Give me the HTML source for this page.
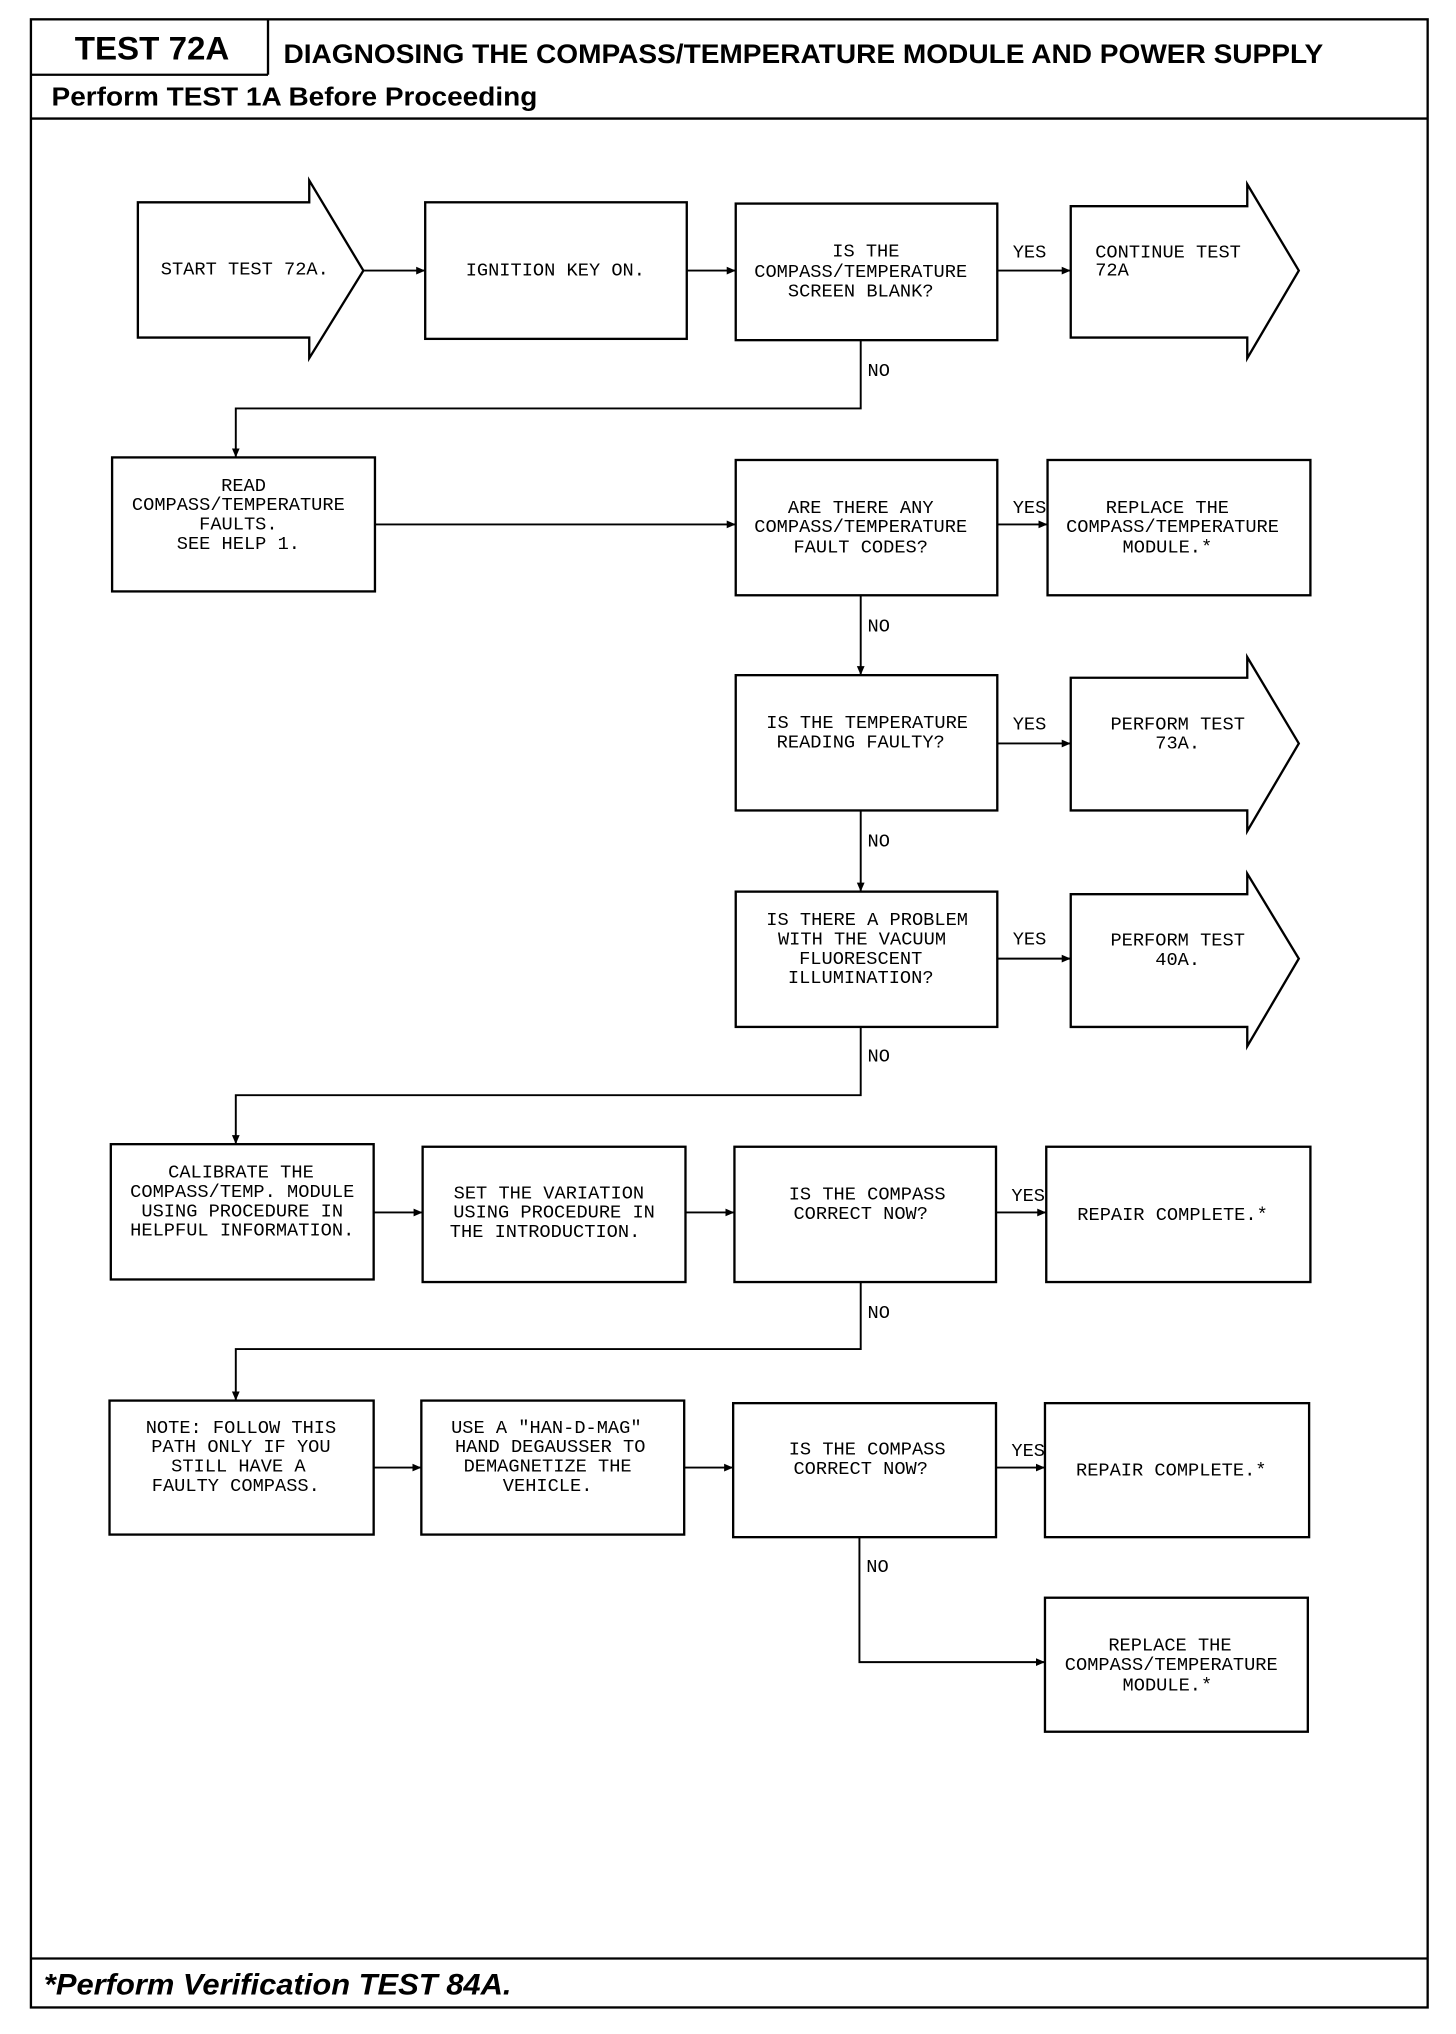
<!DOCTYPE html>
<html><head><style>html,body{margin:0;padding:0;background:#fff}svg{display:block}</style></head>
<body>
<svg width="1456" height="2034" viewBox="0 0 1130 1578.6" preserveAspectRatio="none" xmlns="http://www.w3.org/2000/svg">
<defs><marker id="a" markerWidth="8" markerHeight="8" refX="7" refY="4" orient="auto" markerUnits="userSpaceOnUse"><path d="M0,1 L7,4 L0,7 Z" fill="#000"/></marker></defs>
<g fill="none" stroke="#000" stroke-width="1.8">
<rect x="24" y="15" width="1084" height="1543"/>
<line x1="208" y1="15" x2="208" y2="58"/>
<line x1="24" y1="58" x2="208" y2="58"/>
<line x1="24" y1="92" x2="1108" y2="92"/>
<line x1="24" y1="1520" x2="1108" y2="1520"/>
<path d="M107,157 L240,157 L240,140 L282,210 L240,278 L240,262 L107,262 Z"/>
<rect x="330" y="157" width="203" height="106"/>
<rect x="571" y="158" width="203" height="106"/>
<path d="M831,160 L968,160 L968,143 L1008,210 L968,278 L968,262 L831,262 Z"/>
<rect x="87" y="355" width="204" height="104"/>
<rect x="571" y="357" width="203" height="105"/>
<rect x="813" y="357" width="204" height="105"/>
<rect x="571" y="524" width="203" height="105"/>
<path d="M831,526 L968,526 L968,510 L1008,577 L968,645 L968,629 L831,629 Z"/>
<rect x="571" y="692" width="203" height="105"/>
<path d="M831,694 L968,694 L968,678 L1008,744 L968,812 L968,797 L831,797 Z"/>
<rect x="86" y="888" width="204" height="105"/>
<rect x="328" y="890" width="204" height="105"/>
<rect x="570" y="890" width="203" height="105"/>
<rect x="812" y="890" width="205" height="105"/>
<rect x="85" y="1087" width="205" height="104"/>
<rect x="327" y="1087" width="204" height="104"/>
<rect x="569" y="1089" width="204" height="104"/>
<rect x="811" y="1089" width="205" height="104"/>
<rect x="811" y="1240" width="204" height="104"/>
</g>
<g fill="none" stroke="#000" stroke-width="1.5" marker-end="url(#a)">
<line x1="282" y1="210" x2="330" y2="210"/>
<line x1="533" y1="210" x2="571" y2="210"/>
<line x1="774" y1="210" x2="831" y2="210"/>
<polyline points="668,264 668,317 183,317 183,355"/>
<line x1="291" y1="407" x2="571" y2="407"/>
<line x1="774" y1="407" x2="813" y2="407"/>
<line x1="668" y1="462" x2="668" y2="524"/>
<line x1="774" y1="577" x2="831" y2="577"/>
<line x1="668" y1="629" x2="668" y2="692"/>
<line x1="774" y1="744" x2="831" y2="744"/>
<polyline points="668,797 668,850 183,850 183,888"/>
<line x1="290" y1="941" x2="328" y2="941"/>
<line x1="532" y1="941" x2="570" y2="941"/>
<line x1="773" y1="941" x2="812" y2="941"/>
<polyline points="668,995 668,1047 183,1047 183,1087"/>
<line x1="290" y1="1139" x2="327" y2="1139"/>
<line x1="531" y1="1139" x2="569" y2="1139"/>
<line x1="773" y1="1139" x2="811" y2="1139"/>
<polyline points="667,1193 667,1290 811,1290"/>
</g>
<g font-family="Liberation Sans, sans-serif" font-weight="bold" fill="#000">
<text x="58" y="46" font-size="25" textLength="120" lengthAdjust="spacingAndGlyphs">TEST 72A</text>
<text x="220" y="49" font-size="21" textLength="807" lengthAdjust="spacingAndGlyphs">DIAGNOSING THE COMPASS/TEMPERATURE MODULE AND POWER SUPPLY</text>
<text x="40" y="82" font-size="20" textLength="377" lengthAdjust="spacingAndGlyphs">Perform TEST 1A Before Proceeding</text>
<text x="34" y="1548" font-size="23" font-style="italic" textLength="363" lengthAdjust="spacingAndGlyphs">*Perform Verification TEST 84A.</text>
</g>
<g font-family="Liberation Mono, monospace" font-size="14.5" fill="#000" text-anchor="middle">
<text x="190" y="213">START TEST 72A.</text>
<text x="431" y="214">IGNITION KEY ON.</text>
<text x="672" y="199">IS THE</text><text x="668" y="215">COMPASS/TEMPERATURE</text><text x="668" y="230">SCREEN BLANK?</text>
<text x="799" y="200">YES</text>
<text x="850" y="200" text-anchor="start">CONTINUE TEST</text><text x="850" y="214" text-anchor="start">72A</text>
<text x="682" y="292">NO</text>
<text x="189" y="381">READ</text><text x="185" y="396">COMPASS/TEMPERATURE</text><text x="185" y="411">FAULTS.</text><text x="185" y="426">SEE HELP 1.</text>
<text x="668" y="398">ARE THERE ANY</text><text x="668" y="413">COMPASS/TEMPERATURE</text><text x="668" y="429">FAULT CODES?</text>
<text x="799" y="398">YES</text>
<text x="906" y="398">REPLACE THE</text><text x="910" y="413">COMPASS/TEMPERATURE</text><text x="906" y="429">MODULE.*</text>
<text x="682" y="490">NO</text>
<text x="673" y="565">IS THE TEMPERATURE</text><text x="668" y="580">READING FAULTY?</text>
<text x="799" y="566">YES</text>
<text x="914" y="566">PERFORM TEST</text><text x="914" y="581">73A.</text>
<text x="682" y="657">NO</text>
<text x="673" y="718">IS THERE A PROBLEM</text><text x="669" y="733">WITH THE VACUUM</text><text x="668" y="748">FLUORESCENT</text><text x="668" y="763">ILLUMINATION?</text>
<text x="799" y="733">YES</text>
<text x="914" y="734">PERFORM TEST</text><text x="914" y="749">40A.</text>
<text x="682" y="824">NO</text>
<text x="187" y="914">CALIBRATE THE</text><text x="188" y="929">COMPASS/TEMP. MODULE</text><text x="188" y="944">USING PROCEDURE IN</text><text x="188" y="959">HELPFUL INFORMATION.</text>
<text x="426" y="930">SET THE VARIATION</text><text x="430" y="945">USING PROCEDURE IN</text><text x="423" y="960">THE INTRODUCTION.</text>
<text x="673" y="931">IS THE COMPASS</text><text x="668" y="946">CORRECT NOW?</text>
<text x="798" y="932">YES</text>
<text x="910" y="947">REPAIR COMPLETE.*</text>
<text x="682" y="1023">NO</text>
<text x="187" y="1112">NOTE:  FOLLOW THIS</text><text x="187" y="1127">PATH ONLY IF YOU</text><text x="185" y="1142">STILL HAVE A</text><text x="183" y="1157">FAULTY COMPASS.</text>
<text x="424" y="1112">USE A "HAN-D-MAG"</text><text x="427" y="1127">HAND DEGAUSSER TO</text><text x="425" y="1142">DEMAGNETIZE THE</text><text x="425" y="1157">VEHICLE.</text>
<text x="673" y="1129">IS THE COMPASS</text><text x="668" y="1144">CORRECT NOW?</text>
<text x="798" y="1130">YES</text>
<text x="909" y="1145">REPAIR COMPLETE.*</text>
<text x="681" y="1220">NO</text>
<text x="908" y="1281">REPLACE THE</text><text x="909" y="1296">COMPASS/TEMPERATURE</text><text x="906" y="1312">MODULE.*</text>
</g>
</svg>
</body></html>
